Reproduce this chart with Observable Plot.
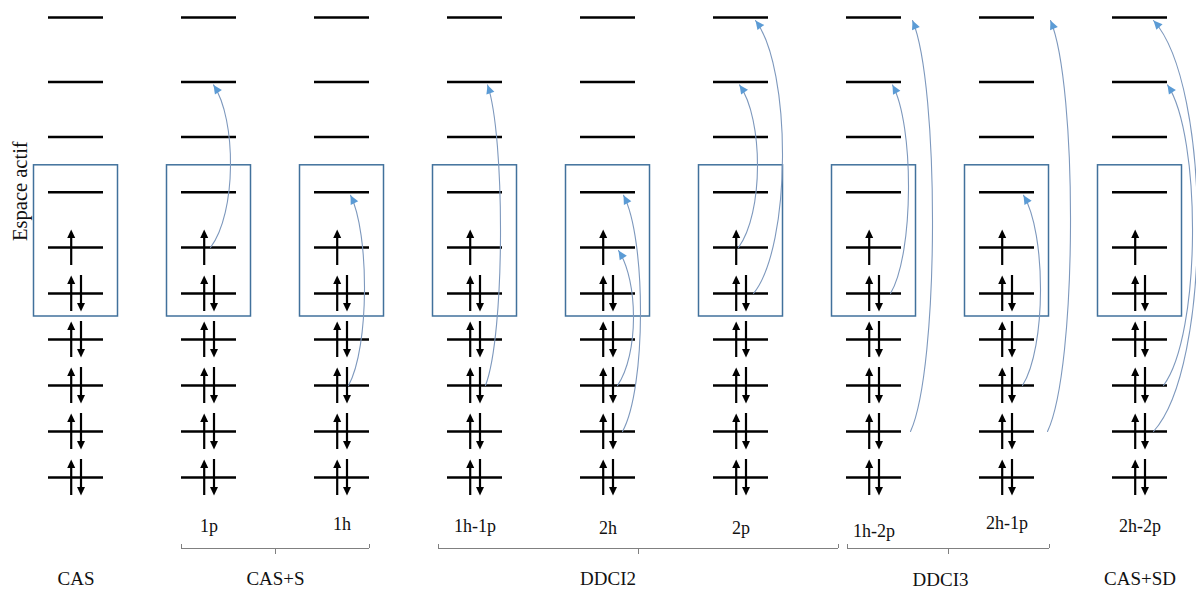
<!DOCTYPE html>
<html><head><meta charset="utf-8">
<script src="https://cdn.jsdelivr.net/npm/d3@7"></script>
<script src="https://cdn.jsdelivr.net/npm/@observablehq/plot@0.6"></script>
<style>html,body{margin:0;padding:0;background:#fff}</style>
</head><body><div id="chart"></div>
<script>
// ---------------- data ----------------
const columnLabels = ["", "1p", "1h", "1h-1p", "2h", "2p", "1h-2p", "2h-1p", "2h-2p"];
const levelEnergy = [10, 8.6, 7.4, 6.2, 5, 4, 3, 2, 1, 0];      // orbital levels, top to bottom
const levelOccupancy = [0, 0, 0, 0, 1, 2, 2, 2, 2, 2];           // electrons per level
const activeTop = 3, activeBottom = 5;                            // active space = levels 3..5
const activeLabel = "Espace actif";
const groupNames = ["CAS", "CAS+S", "DDCI2", "DDCI3", "CAS+SD"];
const groupCentre = [0, 1.5, 4, 6.5, 8];                          // in column units
const bracketFirst = [1, 3, 6];                                   // bracketed groups: first column
const bracketLast = [2, 5, 7];                                    //                   last column
const excColumn = [1, 2, 3, 4, 4, 5, 5, 6, 6, 7, 7, 8, 8];        // excitation arrows
const excFrom   = [4, 7, 7, 7, 8, 4, 5, 5, 8, 7, 8, 7, 8];
const excTo     = [1, 3, 1, 4, 3, 1, 0, 1, 0, 3, 0, 1, 0];

// ---------------- layout (pixels) ----------------
const W = 1196, H = 589;
const colStep = 133, col0 = 75.5, levelStep = 46, baseY = 477;
const xDomain = [-col0 / colStep, (W - col0) / colStep];
const yDomain = [(baseY - H) / levelStep, baseY / levelStep];
const px = d3.scaleLinear(xDomain, [0, W]);
const py = d3.scaleLinear(yDomain, [H, 0]);
// curved-arrow shape: offsets from column centre (start, tip, widest point)
const excStartDx = [1.5, 6.5, 10.5, 9.5, 14.5, -2.5, 12.5, 16.5, 36.5, 15.5, 40.5, 23.5, 13.5];
const excEndDx   = [4.5, 8.5, 12.5, 10.5, 15.5, -1.5, 14.5, 18.5, 38.5, 16.5, 43.5, 27.5, 13.5];
const excBulgeDx = [21.5, 22.5, 25.5, 25.5, 32.5, 16.5, 41.5, 34.5, 58.5, 33.5, 63.5, 52.5, 57.5];
const bracketPadL = [27.5, 36.5, 26.5], bracketPadR = [27.5, 97.5, 42.5];
const labelDy = [0, -63, -65, -63, -61, -61, -58, -66, -63];
const groupDy = [-11, -11, -11, -10, -11];

// ---------------- derived tables ----------------
const cols = columnLabels.map((label, i) => ({i, label, dy: labelDy[i]}));
const levels = [];
const ups = [], downs = [];
cols.forEach(c => levelEnergy.forEach((e, j) => {
  levels.push({x: c.i, y: e});
  if (levelOccupancy[j] >= 1) ups.push({x: c.i, y: e});
  if (levelOccupancy[j] >= 2) downs.push({x: c.i, y: e});
}));

const ctrl = [], heads = [];
excColumn.forEach((c, k) => {
  const cx = px(c);
  const x0 = cx + excStartDx[k], y0 = py(levelEnergy[excFrom[k]]);
  const x3 = cx + excEndDx[k], y3 = py(levelEnergy[excTo[k]]) + 3;
  const b = cx + excBulgeDx[k];
  const cc = (b - (x0 + x3) / 8) / 0.75;
  const kk = 0.12 * (y0 - y3) + 15;
  const pts = [[x0, y0], [cc, y0 - kk], [cc, y3 + kk], [x3, y3]];
  pts.forEach(p => ctrl.push({id: k, x: px.invert(p[0]), y: py.invert(p[1])}));
  const ang = Math.atan2(x3 - cc, kk) * 180 / Math.PI;
  heads.push({x: px.invert(x3), y: py.invert(y3), a: ang});
});

const brackets = bracketFirst.map((f, k) => {
  const l = px.invert(px(f) - bracketPadL[k]);
  const r = px.invert(px(bracketLast[k]) + bracketPadR[k]);
  return {l, r, m: (l + r) / 2};
});
const bracketY = py.invert(py(levelEnergy[9]) + 71);
const boxMidY = py.invert(((py(levelEnergy[activeTop]) - 27) + (py(levelEnergy[activeBottom]) + 23)) / 2);

// bezier curve factory (4 control points)
function bezier(context) {
  let pts = [];
  return {
    areaStart() {}, areaEnd() {},
    lineStart() { pts = []; },
    lineEnd() {
      const [a, b, c, d] = pts;
      context.moveTo(a[0], a[1]);
      context.bezierCurveTo(b[0], b[1], c[0], c[1], d[0], d[1]);
    },
    point(x, y) { pts.push([+x, +y]); }
  };
}
// filled arrow head with its tip at the origin, pointing up
const headSymbol = {
  draw(ctx, size) {
    const r = Math.sqrt(size / Math.PI);
    ctx.moveTo(0, 0);
    ctx.lineTo(r, 2.1 * r);
    ctx.lineTo(-r, 2.1 * r);
    ctx.closePath();
  }
};

const serif = "Liberation Serif, Times New Roman, serif";
const colLabelMarks = cols.filter(c => c.label).map(c =>
  Plot.text([c], {x: "i", text: "label", frameAnchor: "bottom", dy: c.dy,
    lineAnchor: "middle", fontSize: 18, fontFamily: serif, fill: "#111"}));
const groupMarks = groupNames.map((g, i) =>
  Plot.text([g], {x: groupCentre[i], text: d => d, frameAnchor: "bottom", dy: groupDy[i],
    lineAnchor: "middle", fontSize: 19, fontFamily: serif, fill: "#111"}));

const plot = Plot.plot({
  width: W, height: H,
  margin: 0,
  x: {domain: xDomain, axis: null},
  y: {domain: yDomain, axis: null},
  style: {background: "#fff"},
  marks: [
    // active-space boxes
    Plot.rect(cols, {x1: "i", x2: "i", y1: levelEnergy[activeBottom], y2: levelEnergy[activeTop],
      insetLeft: -42, insetRight: -42, insetTop: -27, insetBottom: -23,
      fill: "none", stroke: "#41719c", strokeWidth: 1.5}),
    // orbital levels
    Plot.ruleY(levels, {x1: "x", x2: "x", y: "y", insetLeft: -27.5, insetRight: -27.5,
      stroke: "#000", strokeWidth: 2.5}),
    // spin up
    Plot.ruleX(ups, {x: "x", y1: "y", y2: "y", dx: -4.8, insetTop: -14, insetBottom: -18,
      stroke: "#000", strokeWidth: 2.2}),
    Plot.dot(ups, {x: "x", y: "y", dx: -4.8, dy: -18, symbol: headSymbol, r: 4, fill: "#000", stroke: "none"}),
    // spin down
    Plot.ruleX(downs, {x: "x", y1: "y", y2: "y", dx: 5, insetTop: -18, insetBottom: -14,
      stroke: "#000", strokeWidth: 2.2}),
    Plot.dot(downs, {x: "x", y: "y", dx: 5, dy: 18, rotate: 180, symbol: headSymbol, r: 4, fill: "#000", stroke: "none"}),
    // excitations
    Plot.line(ctrl, {x: "x", y: "y", z: "id", curve: bezier, stroke: "#7d98bd", strokeWidth: 1.1, fill: "none"}),
    Plot.dot(heads, {x: "x", y: "y", rotate: "a", symbol: headSymbol, r: 4.2, fill: "#5b9bd5", stroke: "none"}),
    // brackets
    Plot.ruleY(brackets, {x1: "l", x2: "r", y: bracketY, stroke: "#808080", strokeWidth: 1}),
    Plot.ruleX(brackets, {x: "l", y1: bracketY, y2: bracketY, insetTop: -4, stroke: "#808080", strokeWidth: 1}),
    Plot.ruleX(brackets, {x: "r", y1: bracketY, y2: bracketY, insetTop: -4, stroke: "#808080", strokeWidth: 1}),
    Plot.ruleX(brackets, {x: "m", y1: bracketY, y2: bracketY, insetBottom: -6, stroke: "#808080", strokeWidth: 1}),
    // labels
    ...colLabelMarks,
    ...groupMarks,
    Plot.text([activeLabel], {text: d => d, frameAnchor: "left", dx: 19.5, y: boxMidY, rotate: -90,
      lineAnchor: "middle", fontSize: 20.5, fontFamily: serif, fill: "#111"})
  ]
});
document.getElementById("chart").appendChild(plot);
</script>
</body></html>
